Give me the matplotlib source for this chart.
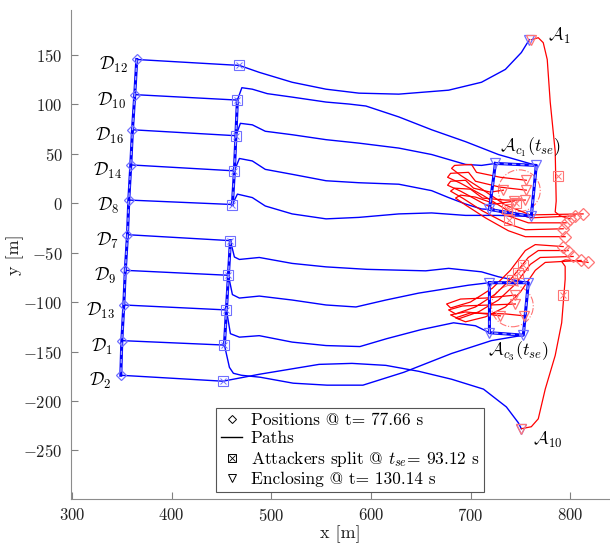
import matplotlib
matplotlib.use("Agg")
import matplotlib.pyplot as plt
from matplotlib.lines import Line2D
from matplotlib.patches import Circle

plt.rcParams['font.family'] = ['cmr10', 'DejaVu Serif']
plt.rcParams['mathtext.fontset'] = 'cm'
plt.rcParams['axes.unicode_minus'] = False
plt.rcParams['axes.formatter.use_mathtext'] = True

# ---------------- data ----------------
# defenders: label, path waypoints (start = position @ t=77.66, 2nd point = split point)
def_names = ['12', '10', '16', '14', '8', '7', '9', '13', '1', '2']
def_paths = [
    [(365, 145), (468, 139), (488, 132), (521, 122), (555, 115), (588, 111), (628, 110),
     (678, 114), (711, 122), (735, 135), (751, 152), (759, 165)],
    [(363, 109.5), (466, 104), (470.5, 116.5), (481, 115), (496, 110.5), (521, 107), (555, 102),
     (578, 100), (595, 98), (628, 87), (661, 74), (695, 62), (728, 49), (766, 38)],
    [(360.7, 74), (464.5, 68), (469, 80.5), (481, 79), (494, 72.5), (521, 69), (555, 64),
     (588, 60.5), (628, 55.5), (661, 49), (695, 39), (711, 38), (725, 40)],
    [(359, 38.5), (463, 32.5), (468, 45), (481, 42.5), (494, 34), (521, 29), (555, 22.5),
     (588, 20.5), (628, 19), (661, 12.5), (678, 5.5), (695, -1), (711, -6), (719, -6.5)],
    [(357, 3), (461, -1.5), (466, 9), (481, 5.5), (494, -3), (521, -11), (555, -16),
     (588, -14.5), (628, -11), (661, -10), (695, -12.5), (728, -12.5), (761, -13.5)],
    [(355.7, -32), (459, -38), (463, -54.5), (468, -57), (488, -55), (521, -61), (555, -64.5),
     (596, -67), (655, -68.5), (678, -66), (711, -69.5), (728, -74.5), (745, -78), (758, -80.5)],
    [(353.5, -68), (457, -73), (461, -92.5), (468, -96), (488, -94), (521, -98), (555, -103),
     (585, -105), (615, -98), (648, -91), (698, -83), (719, -80.5)],
    [(352, -103), (455, -108), (459, -132), (468, -135.5), (488, -134), (521, -140.5), (555, -144),
     (589, -145), (616, -137), (650, -128), (683, -121), (705, -124), (719, -131)],
    [(350, -139), (453, -143.5), (458, -166), (462, -172), (470, -174), (489, -176), (522, -182),
     (556, -184), (592, -184), (633, -171), (681, -152), (721, -139), (753, -133.5)],
    [(349, -174), (451.5, -180), (488, -173), (548, -163), (581, -162), (615, -164), (648, -170),
     (681, -178), (713, -188), (736, -206), (748, -222), (751, -228)],
]
# groups of defenders linked at the split time (indices into def_paths)
group_c1 = [1, 2, 3, 4]
group_c3 = [5, 6, 7, 8]
box_c1 = [(725, 40), (766, 38), (761, -13.5), (719, -6.5)]
box_c3 = [(719, -80.5), (758, -80.5), (753, -133.5), (719, -131)]

# attackers: waypoints from position @ t=77.66 to enclosing position
att_paths = [
    # A1
    [(800, -16), (790, -13), (785, -9), (786, 2), (785, 52), (780, 102), (777, 145),
     (773, 162), (768, 167), (761, 165)],
    # A10
    [(818, -60), (802, -58), (795, -57.5), (791.5, -59), (795, -64), (795, -77), (791.5, -121),
     (785, -154), (775, -188), (768, -218), (761, -226), (751, -228)],
    # cluster c1
    [(813, -11), (760, -12), (735, -2), (710, 15), (690, 28), (681, 35), (684, 38), (701, 39),
     (706, 31), (730, 26), (756, 23)],
    [(805, -13), (760, -15), (738, -8), (712, 8), (690, 20), (677, 26), (680, 30), (698, 31),
     (705, 22), (730, 16), (756, 13)],
    [(796, -20), (758, -20), (735, -12), (712, 0), (690, 12), (677, 18), (680, 22), (695, 23),
     (703, 15), (720, 11), (733, 13)],
    [(793, -26), (755, -27), (735, -20), (712, -8), (692, 5), (680, 12), (684, 15), (700, 14),
     (712, 5), (735, 3), (755, 3)],
    [(795, -34), (755, -34), (738, -28), (715, -15), (695, -2), (685, 5), (690, 8), (705, 6),
     (725, -1), (744, 2)],
    # cluster c3
    [(793, -44), (765, -42), (755, -48), (740, -68), (722, -86), (700, -100), (680, -106),
     (676, -102), (690, -97), (715, -96), (745, -93)],
    [(798, -48), (768, -48), (758, -55), (742, -75), (725, -92), (705, -105), (685, -112),
     (678, -108), (692, -104), (720, -103), (745, -102)],
    [(803, -54), (770, -55), (760, -62), (745, -82), (728, -98), (708, -110), (688, -117),
     (680, -113), (695, -110), (715, -112), (730, -114)],
    [(811, -58), (775, -60), (765, -68), (750, -90), (735, -105), (715, -115), (695, -120),
     (685, -116), (700, -111), (735, -112), (754, -114)],
]
att_split = [(788, 27.5), (792.5, -93), (746, 0), (737, -6), (739, -17), (753, -63), (748, -70.5),
             (742, -78)]
circ_c1 = (749, 12.5, 21)
circ_c3 = (742, -104, 21)

xticks = [300, 400, 500, 600, 700, 800]
yticks = [-250, -200, -150, -100, -50, 0, 50, 100, 150]

# ---------------- figure ----------------
fig = plt.figure(figsize=(6.10, 5.48), dpi=100)
ax = fig.add_axes([71 / 610, 1 - 499 / 548, 1 - 71 / 610, (499 - 10) / 548])

blue = '#0000ff'
lblue = '#7070ff'
red = '#ff0000'
lred = '#ff7575'


def split_marker(x, y, col, size=6.5):
    ax.plot(x, y, ls='none', marker='s', ms=size, mfc='none', mec=col, mew=0.8, zorder=6)
    ax.plot(x, y, ls='none', marker='x', ms=size * 0.7, mec=col, mew=0.7, zorder=6)


for p in def_paths:
    xs, ys = zip(*p)
    ax.plot(xs, ys, color=blue, lw=1.0, zorder=3)

# formation lines
for pts in ([p[0] for p in def_paths],
            [def_paths[i][1] for i in group_c1],
            [def_paths[i][1] for i in group_c3]):
    xs, ys = zip(*pts)
    ax.plot(xs, ys, color=blue, lw=2.2, zorder=4)
    ax.plot(xs, ys, color='#9aa0ff', lw=1.0, ls=(0, (3, 3)), zorder=5)
for box in (box_c1, box_c3):
    xs, ys = zip(*(box + box[:1]))
    ax.plot(xs, ys, color=blue, lw=2.2, zorder=4)
    ax.plot(xs, ys, color='#9aa0ff', lw=1.0, ls=(0, (3, 3)), zorder=5)

for p in att_paths:
    xs, ys = zip(*p)
    ax.plot(xs, ys, color=red, lw=0.9, zorder=3)

for (cx, cy, r) in (circ_c1, circ_c3):
    ax.add_patch(Circle((cx, cy), r, fill=False, ec=lred, lw=0.8, ls='-.', zorder=2))

# markers
dx, dy = zip(*[p[0] for p in def_paths])
ax.plot(dx, dy, ls='none', marker='D', ms=5.5, mfc='none', mec=lblue, mew=0.9, zorder=6)
sx, sy = zip(*[p[1] for p in def_paths])
split_marker(sx, sy, lblue)
ex, ey = zip(*([p[-1] for p in def_paths]))
ax.plot(ex, ey, ls='none', marker='v', ms=7, mfc='none', mec=lblue, mew=0.9, zorder=6)

adx, ady = zip(*[p[0] for p in att_paths])
ax.plot(adx, ady, ls='none', marker='D', ms=6, mfc='none', mec=lred, mew=0.9, zorder=6)
asx, asy = zip(*att_split)
split_marker(asx, asy, lred)
aex, aey = zip(*[p[-1] for p in att_paths])
ax.plot(aex, aey, ls='none', marker='v', ms=7, mfc='none', mec=lred, mew=0.9, zorder=6)

# labels
for name, p in zip(def_names, def_paths):
    ax.text(p[0][0] - 9, p[0][1] - 6, r'$\mathcal{D}_{%s}$' % name, ha='right', va='center',
            fontsize=13)
ax.text(778, 169, r'$\mathcal{A}_{1}$', fontsize=13, ha='left', va='center')
ax.text(763, -239, r'$\mathcal{A}_{10}$', fontsize=13, ha='left', va='center')
ax.text(760, 56, r'$\mathcal{A}_{c_1}(t_{se})$', fontsize=13, ha='center', va='center')
ax.text(748, -150, r'$\mathcal{A}_{c_3}(t_{se})$', fontsize=13, ha='center', va='center')

ax.set_xlim(299, 840)
ax.set_ylim(-299, 195)
ax.set_xticks(xticks)
ax.set_yticks(yticks)
ax.tick_params(direction='in', length=5, colors='#808080', labelcolor='#222222', labelsize=12,
               pad=6)
for s in ('top', 'right'):
    ax.spines[s].set_visible(False)
for s in ('left', 'bottom'):
    ax.spines[s].set_color('#8c8c8c')
ax.set_xlabel('x [m]', fontsize=13, color='#222222', labelpad=1)
ax.set_ylabel('y [m]', fontsize=13, color='#222222')
ax.yaxis.set_label_coords(-0.087, 0.5)

leg_sq = Line2D([], [], ls='none', marker='s', ms=6, mfc='none', mec='k', mew=0.7)
leg_x = Line2D([], [], ls='none', marker='x', ms=4, mec='k', mew=0.6)
handles = [
    Line2D([], [], ls='none', marker='D', ms=4.5, mfc='none', mec='k', mew=0.7),
    Line2D([], [], color='k', lw=1),
    (leg_sq, leg_x),
    Line2D([], [], ls='none', marker='v', ms=6, mfc='none', mec='k', mew=0.7),
]
labels = ['Positions @ t= 77.66 s', 'Paths', r'Attackers split @ $t_{se}$= 93.12 s',
          'Enclosing @ t= 130.14 s']
leg = ax.legend(handles, labels, loc='lower left', bbox_to_anchor=(0.269, 0.014),
                borderaxespad=0, fontsize=12.5, frameon=True, fancybox=False, framealpha=1,
                edgecolor='#555555', handlelength=1.2, labelspacing=0.15, borderpad=0.3,
                handletextpad=0.5)
leg.get_frame().set_linewidth(0.8)

fig.savefig('out.png', dpi=100)
